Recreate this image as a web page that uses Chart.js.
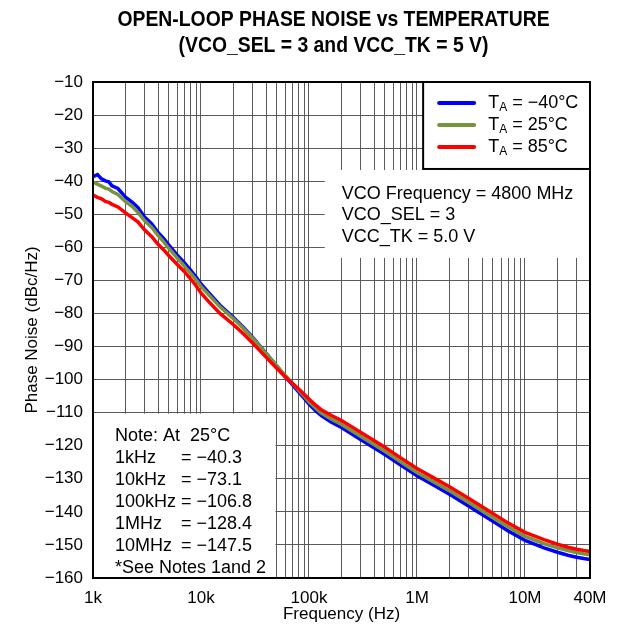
<!DOCTYPE html>
<html>
<head>
<meta charset="utf-8">
<script src="https://cdn.jsdelivr.net/npm/chart.js@4.4.0/dist/chart.umd.min.js"></script>
<style>
  html, body { margin: 0; padding: 0; background: #fff; }
  #wrap { width: 621px; height: 628px; }
</style>
</head>
<body>
<div id="wrap"><canvas id="chart" width="621" height="628"></canvas></div>
<script>
const FONT = "'Liberation Sans', Arial, sans-serif"

// Offset frequency (Hz)
const freqHz = [
  1000, 1100, 1200, 1300, 1400, 1500, 1700, 2000, 2300, 2600, 3000, 3500, 4000, 4500, 5000,
  6000, 7000, 8000, 9000, 10000, 12000, 15000, 20000, 25000, 30000, 40000, 50000, 60000,
  70000, 80000, 90000, 100000, 115000, 130000, 160000, 200000, 300000, 500000, 700000,
  1e6, 1.5e6, 2e6, 3e6, 5e6, 7e6, 1e7, 1.5e7, 2e7, 2.5e7, 3e7, 3.5e7, 4e7
]

// Phase noise (dBc/Hz) per temperature
const noiseM40 = [
  -38.6, -38.0, -39.3, -39.9, -40.2, -41.4, -42.2, -44.8, -46.3, -47.9, -50.8, -52.9, -55.5, -57.3, -59.2,
  -62.3, -64.6, -66.9, -69.0, -71.1, -74.0, -77.5, -81.2, -84.4, -87.2, -92.0, -95.8, -99.0,
  -101.5, -103.7, -105.6, -107.4, -109.4, -110.9, -112.8, -114.5, -118.1, -122.6, -125.8,
  -129.1, -132.3, -134.7, -138.2, -142.8, -145.8, -148.6, -150.9, -152.2, -153.1, -153.7, -154.1, -154.4
]
const noise25 = [
  -40.3, -40.9, -41.5, -42.1, -42.4, -43.1, -44.0, -46.2, -47.6, -49.4, -51.9, -54.0, -56.4, -58.3, -60.2,
  -63.2, -65.6, -67.8, -69.8, -71.8, -74.6, -78.0, -81.6, -84.7, -87.4, -92.1, -95.7, -98.7,
  -101.1, -103.2, -105.0, -106.7, -108.6, -110.1, -111.9, -113.6, -117.1, -121.6, -124.8,
  -128.1, -131.3, -133.6, -137.1, -141.6, -144.6, -147.4, -149.6, -150.9, -151.7, -152.3, -152.7, -153.0
]
const noise85 = [
  -44.2, -44.9, -45.3, -46.1, -46.4, -47.0, -47.8, -49.6, -51.0, -52.3, -54.7, -56.8, -59.1, -60.7, -62.4,
  -65.1, -67.3, -69.5, -71.6, -73.8, -76.7, -80.0, -83.4, -86.3, -88.9, -93.2, -96.5, -99.1,
  -101.1, -102.8, -104.4, -105.9, -107.7, -109.1, -110.8, -112.4, -115.9, -120.4, -123.6,
  -126.9, -130.1, -132.4, -135.9, -140.4, -143.4, -146.2, -148.4, -149.8, -150.7, -151.3, -151.7, -152.0
]

const seriesTemps = ["\u221240\u00B0C", "25\u00B0C", "85\u00B0C"]
const seriesColors = ["#0000ff", "#77933c", "#ff0000"]

const xLabelValues = [1e3, 1e4, 1e5, 1e6, 1e7, 4e7]
const xLabelText = ["1k", "10k", "100k", "1M", "10M", "40M"]

const noteNames = ["1kHz", "10kHz", "100kHz", "1MHz", "10MHz"]
const noteValues = ["\u221240.3", "\u221273.1", "\u2212106.8", "\u2212128.4", "\u2212147.5"]
const conditionLines = ["VCO Frequency = 4800 MHz", "VCO_SEL = 3", "VCC_TK = 5.0 V"]

const titleLines = ["OPEN-LOOP PHASE NOISE vs TEMPERATURE", "(VCO_SEL = 3 and VCC_TK = 5 V)"]

// gridline ticks 1..9 per decade up to 40M
function buildLogTicks() {
  const ticks = []
  for (let d = 1e3; d < 1e8; d *= 10) {
    for (let m = 1; m <= 9; m++) {
      const v = m * d
      if (v <= 4e7) ticks.push({ value: v })
    }
  }
  return ticks
}

const minus = (v) => (v < 0 ? "\u2212" + Math.abs(v) : String(v))

const overlayPlugin = {
  id: "overlay",
  beforeDatasetsDraw(chart) {
    const { ctx, chartArea: a, scales } = chart
    const x = scales.x
    const y = scales.y
    ctx.save()
    ctx.fillStyle = "#fff"

    // note box (lower-left)
    const nTop = y.getPixelForValue(-110) + 1
    const nRight = x.getPixelForValue(5e4) - 1
    ctx.fillRect(a.left, nTop, nRight - a.left, a.bottom - nTop)

    // conditions box
    const cLeft = x.getPixelForValue(1.4e5)
    const cTop = y.getPixelForValue(-36.6)
    const cBottom = y.getPixelForValue(-63.2)
    ctx.fillRect(cLeft, cTop, a.right - cLeft, cBottom - cTop)

    // legend box
    const lLeft = x.getPixelForValue(1.14e6)
    const lBottom = y.getPixelForValue(-36.3)
    ctx.fillRect(lLeft, a.top, a.right - lLeft, lBottom - a.top)
    ctx.strokeStyle = "#000"
    ctx.lineWidth = 2
    ctx.strokeRect(lLeft, a.top, a.right - lLeft, lBottom - a.top)

    // legend entries
    ctx.textBaseline = "middle"
    seriesTemps.forEach((t, i) => {
      const ly = a.top + 21 + i * 22
      ctx.strokeStyle = seriesColors[i]
      ctx.lineWidth = 4
      ctx.lineCap = "round"
      ctx.beginPath()
      ctx.moveTo(lLeft + 16, ly)
      ctx.lineTo(lLeft + 51, ly)
      ctx.stroke()
      ctx.fillStyle = "#000"
      let tx = lLeft + 65
      ctx.font = "18px " + FONT
      ctx.textAlign = "left"
      ctx.fillText("T", tx, ly)
      tx += ctx.measureText("T").width
      ctx.font = "12px " + FONT
      ctx.fillText("A", tx, ly + 5)
      tx += ctx.measureText("A").width
      ctx.font = "18px " + FONT
      ctx.fillText(" = " + t, tx, ly)
    })

    // conditions text
    ctx.fillStyle = "#000"
    ctx.font = "18px " + FONT
    ctx.textAlign = "left"
    conditionLines.forEach((s, i) => {
      ctx.fillText(s, cLeft + 17, cTop + 24 + i * 21.5)
    })

    // note text
    const nx = a.left + 22
    ctx.fillText("Note: At  25\u00B0C", nx, nTop + 22)
    noteNames.forEach((n, i) => {
      const ny = nTop + 44 + i * 22
      ctx.fillText(n, nx, ny)
      ctx.fillText("= " + noteValues[i], a.left + 88, ny)
    })
    ctx.fillText("*See Notes 1and 2", nx, nTop + 44 + 5 * 22)
    ctx.restore()
  },
  afterDraw(chart) {
    const { ctx, chartArea: a } = chart
    ctx.save()
    ctx.strokeStyle = "#000"
    ctx.lineWidth = 2
    ctx.strokeRect(a.left, a.top, a.right - a.left, a.bottom - a.top)

    // titles (bold, horizontally condensed like a narrow face)
    ctx.fillStyle = "#000"
    ctx.textAlign = "center"
    ctx.textBaseline = "middle"
    ctx.font = "bold 22px " + FONT
    const cx = (a.left + a.right) / 2 - 8
    titleLines.forEach((t, i) => {
      ctx.save()
      ctx.translate(cx, 20 + i * 26)
      ctx.scale(0.88, 1)
      ctx.fillText(t, 0, 0)
      ctx.restore()
    })

    // axis titles
    ctx.font = "17px " + FONT
    ctx.fillText("Frequency (Hz)", (a.left + a.right) / 2, 614)
    ctx.translate(32, (a.top + a.bottom) / 2)
    ctx.rotate(-Math.PI / 2)
    ctx.fillText("Phase Noise (dBc/Hz)", 0, 0)
    ctx.restore()
  }
}

const seriesValues = [noiseM40, noise25, noise85]

new Chart(document.getElementById("chart"), {
  type: "line",
  data: {
    datasets: seriesValues.map((vals, i) => ({
      label: "TA = " + seriesTemps[i],
      data: freqHz.map((f, k) => ({ x: f, y: vals[k] })),
      borderColor: seriesColors[i],
      borderWidth: 3.5,
      pointRadius: 0,
      tension: 0,
      fill: false,
      order: 3 - i,
    })),
  },
  options: {
    responsive: false,
    animation: false,
    layout: { padding: { top: 82, right: 31, left: 0, bottom: 0 } },
    plugins: {
      legend: { display: false },
      title: { display: false },
      tooltip: { enabled: false },
    },
    scales: {
      x: {
        type: "logarithmic",
        min: 1e3,
        max: 4e7,
        afterBuildTicks: (scale) => {
          scale.ticks = buildLogTicks()
        },
        afterFit: (scale) => {
          scale.height = 50
        },
        grid: { color: "#5a5a5a", lineWidth: 1, drawTicks: false },
        border: { display: false },
        ticks: {
          autoSkip: false,
          maxRotation: 0,
          padding: 10,
          color: "#000",
          font: { family: FONT, size: 17 },
          callback: (v) => {
            const idx = xLabelValues.indexOf(v)
            return idx >= 0 ? xLabelText[idx] : ""
          },
        },
      },
      y: {
        min: -160,
        max: -10,
        afterFit: (scale) => {
          scale.width = 93
        },
        grid: { color: "#5a5a5a", lineWidth: 1, drawTicks: false },
        border: { display: false },
        ticks: {
          stepSize: 10,
          padding: 10,
          color: "#000",
          font: { family: FONT, size: 17 },
          callback: (v) => minus(v),
        },
      },
    },
  },
  plugins: [overlayPlugin],
})
</script>
</body>
</html>
